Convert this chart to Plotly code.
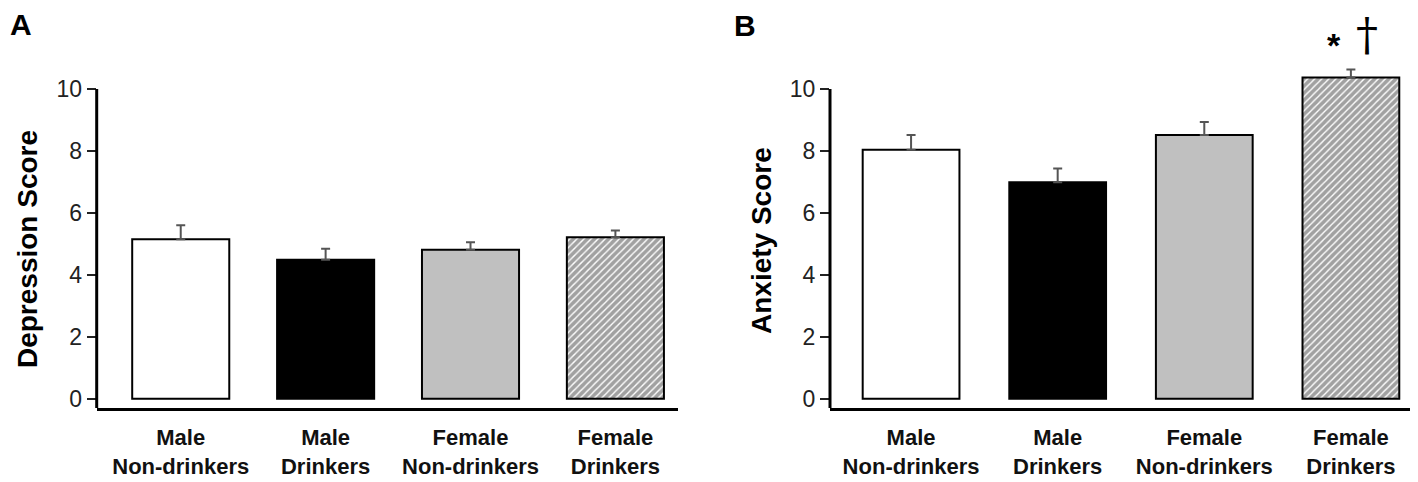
""" two panel bar chart: depression and anxiety scores by group """

import plotly.graph_objects as go

# the page adds an 8px body margin, so the figure is drawn 8px smaller
OFF = 8
W, H = 1418 - OFF, 482 - OFF
TOP, BOTTOM = 50.4, 74.4

groups = ["Male<br>Non-drinkers", "Male<br>Drinkers",
          "Female<br>Non-drinkers", "Female<br>Drinkers"]
depression_mean = [5.15, 4.49, 4.81, 5.21]
depression_sem = [0.45, 0.35, 0.24, 0.22]
anxiety_mean = [8.04, 6.99, 8.51, 10.37]
anxiety_sem = [0.47, 0.44, 0.42, 0.26]
y_ticks = [0, 2, 4, 6, 8, 10]

FONT = "Liberation Sans, Arial, sans-serif"
fills = ["white", "black", "#c0c0c0", "white"]
hatch = ["", "", "", "/"]


def px_x(p):
    """ page pixel -> paper x """
    return (p - OFF) / W


def px_y(p):
    """ page pixel -> paper y """
    return (H - BOTTOM - (p - OFF)) / (H - TOP - BOTTOM)


def bar_trace(means, sems, xa, ya, width):
    """ one bar trace with one-sided error bars """
    return go.Bar(
        x=groups, y=means, xaxis=xa, yaxis=ya, width=width,
        marker=dict(
            color=fills,
            line=dict(color="black", width=2),
            pattern=dict(shape=hatch, fgcolor="#1a1a1a", size=5, solidity=0.72),
        ),
        error_y=dict(type="data", symmetric=False, array=sems,
                     arrayminus=[0] * len(sems),
                     color="#555555", thickness=2, width=4.5),
        showlegend=False,
    )


def text_note(text, x, y, size, angle=0, family=FONT):
    """ free text placed in page pixels """
    fig.add_annotation(text=text, xref="paper", yref="paper", x=px_x(x), y=px_y(y),
                       xanchor="center", yanchor="middle", showarrow=False,
                       textangle=angle, font=dict(family=family, size=size, color="black"))


fig = go.Figure()
fig.add_trace(bar_trace(depression_mean, depression_sem, "x", "y", 0.67))
fig.add_trace(bar_trace(anxiety_mean, anxiety_sem, "x2", "y2", 0.66))

xaxis_style = dict(
    showline=True, linecolor="black", linewidth=3, ticks="",
    ticklabelstandoff=8, showgrid=False, zeroline=False,
    tickfont=dict(family=FONT, size=22, color="#111111", weight="bold"),
)
yaxis_style = dict(
    range=[-0.3, 11], tickvals=y_ticks, showline=False, ticks="outside",
    ticklen=9, tickwidth=2, tickcolor="#222222", showgrid=False,
    zeroline=False, tickfont=dict(family=FONT, size=23, color="#222222"),
)

fig.update_layout(
    width=W, height=H, plot_bgcolor="white", paper_bgcolor="white",
    margin=dict(l=0, r=0, t=TOP, b=BOTTOM, pad=0), bargap=0.3,
    xaxis=dict(domain=[px_x(96.7), px_x(677.7)], range=[-0.58, 3.43], **xaxis_style),
    xaxis2=dict(domain=[px_x(830), px_x(1411)], range=[-0.553, 3.41], **xaxis_style),
    yaxis=dict(anchor="x", **yaxis_style),
    yaxis2=dict(anchor="x2", **yaxis_style),
)

# y-axis lines that stop at the top tick, like the original
for xr, yr in [("x domain", "y"), ("x2 domain", "y2")]:
    fig.add_shape(type="line", xref=xr, yref=yr, x0=0, x1=0, y0=-0.3, y1=10,
                  line=dict(color="black", width=3))

# axis titles, panel letters and significance marks
text_note("<b>Depression Score</b>", 27, 249, 28, angle=-90)
text_note("<b>Anxiety Score</b>", 761, 241, 28, angle=-90)
text_note("<b>A</b>", 21, 25, 30)
text_note("<b>B</b>", 745, 26, 30)
text_note("<b>*</b>", 1334, 45, 34)
text_note("†", 1367, 35, 44, family="DejaVu Serif, serif")

fig.write_html("out.html")
